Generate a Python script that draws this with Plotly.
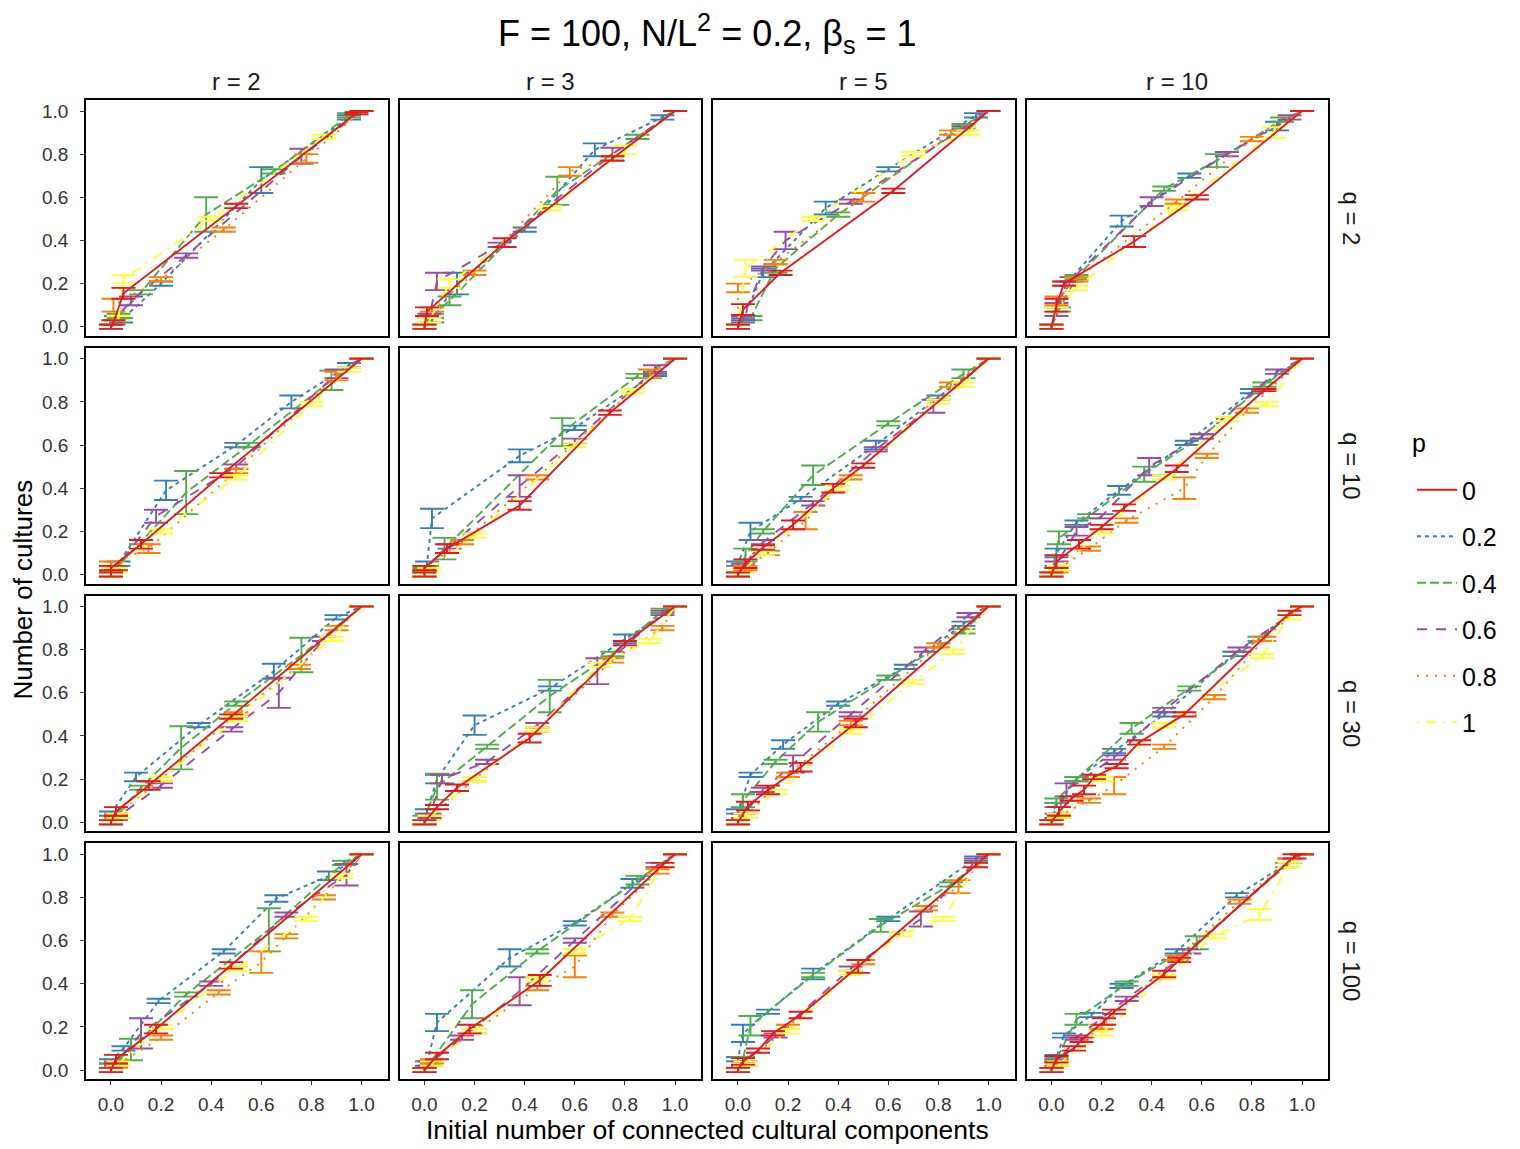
import plotly.graph_objects as go
from plotly.subplots import make_subplots

# ---------------- data ----------------
P_LABELS = ["0", "0.2", "0.4", "0.6", "0.8", "1"]
Q_VALUES = [2, 10, 30, 100]
R_VALUES = [2, 3, 5, 10]
TICK_VALUES = [0.0, 0.2, 0.4, 0.6, 0.8, 1.0]
TICK_TEXT = ["0.0", "0.2", "0.4", "0.6", "0.8", "1.0"]

# each panel: one list per p (0, 0.2, 0.4, 0.6, 0.8, 1); each point [x, y, error]
Q2_R2 = [
    [[0, 0, .01], [.01, .02, .01], [.05, .155, .025], [.5, .56, .01], [.98, .99, .005], [1, 1, 0]],
    [[0, 0, .01], [.04, .03, .01], [.2, .2, .01], [.6, .68, .06], [.95, .97, .01], [1, 1, 0]],
    [[0, 0, .01], [.03, .05, .01], [.12, .16, .01], [.38, .52, .08], [.65, .72, .01], [.95, .98, .01], [1, 1, 0]],
    [[0, 0, .01], [.02, .04, .01], [.08, .12, .02], [.3, .33, .01], [.76, .79, .035], [1, 1, 0]],
    [[0, 0, .01], [.01, .1, .03], [.2, .22, .01], [.45, .45, .01], [.78, .78, .02], [1, 1, 0]],
    [[0, 0, .01], [.03, .04, .01], [.05, .22, .02], [.4, .5, .01], [.85, .88, .01], [1, 1, 0]],
]
Q2_R3 = [
    [[0, 0, .01], [.01, .07, .02], [.32, .39, .02], [.75, .78, .01], [1, 1, 0]],
    [[0, 0, .01], [.03, .03, .01], [.13, .2, .05], [.4, .45, .01], [.68, .82, .03], [.95, .97, .01], [1, 1, 0]],
    [[0, 0, .01], [.03, .05, .01], [.1, .12, .02], [.53, .63, .065], [.85, .88, .01], [1, 1, 0]],
    [[0, 0, .01], [.02, .05, .01], [.05, .21, .04], [.3, .38, .01], [.75, .8, .03], [1, 1, 0]],
    [[0, 0, .01], [.03, .08, .01], [.2, .25, .01], [.58, .72, .02], [.75, .78, .01], [1, 1, 0]],
    [[0, 0, .01], [.02, .03, .01], [.1, .2, .02], [.5, .55, .01], [.8, .82, .02], [1, 1, 0]],
]
Q2_R5 = [
    [[0, 0, .01], [.02, .08, .025], [.17, .25, .01], [.62, .63, .01], [1, 1, 0]],
    [[0, 0, .01], [.02, .03, .01], [.1, .25, .02], [.35, .55, .03], [.6, .73, .01], [.95, .98, .01], [1, 1, 0]],
    [[0, 0, .01], [.05, .04, .01], [.15, .27, .02], [.4, .52, .01], [.9, .93, .01], [1, 1, 0]],
    [[0, 0, .01], [.02, .04, .01], [.1, .27, .01], [.19, .4, .04], [.45, .58, .01], [.9, .92, .01], [1, 1, 0]],
    [[0, 0, .01], [0, .18, .02], [.15, .3, .01], [.5, .6, .02], [.85, .9, .01], [1, 1, 0]],
    [[0, 0, .01], [.03, .27, .04], [.3, .5, .01], [.7, .8, .01], [.92, .9, .01], [1, 1, 0]],
]
Q2_R10 = [
    [[0, 0, .01], [.02, .1, .03], [.05, .2, .01], [.33, .395, .025], [.58, .6, .01], [1, 1, 0]],
    [[0, 0, .01], [.02, .08, .01], [.06, .2, .01], [.28, .49, .025], [.55, .7, .01], [.9, .93, .02], [1, 1, 0]],
    [[0, 0, .01], [.03, .08, .01], [.1, .23, .01], [.45, .64, .01], [.66, .77, .03], [.92, .96, .01], [1, 1, 0]],
    [[0, 0, .01], [.02, .08, .03], [.08, .22, .01], [.4, .58, .02], [.7, .8, .01], [.95, .97, .01], [1, 1, 0]],
    [[0, 0, .01], [.02, .12, .02], [.1, .22, .01], [.5, .58, .01], [.8, .87, .01], [1, 1, 0]],
    [[0, 0, .01], [.02, .08, .01], [.1, .18, .01], [.5, .55, .01], [.89, .9, .025], [1, 1, 0]],
]
Q10_R2 = [
    [[0, 0, .01], [0, .03, .01], [.12, .14, .02], [.44, .46, .01], [1, 1, 0]],
    [[0, 0, .01], [.03, .05, .01], [.22, .39, .045], [.5, .6, .01], [.72, .8, .03], [.95, .97, .01], [1, 1, 0]],
    [[0, 0, .01], [.02, .03, .01], [.12, .15, .01], [.3, .38, .1], [.55, .6, .01], [.88, .9, .045], [1, 1, 0]],
    [[0, 0, .01], [.02, .03, .01], [.18, .27, .03], [.5, .5, .01], [.9, .93, .02], [1, 1, 0]],
    [[0, 0, .01], [0, .05, .01], [.15, .12, .02], [.5, .48, .01], [.9, .92, .02], [1, 1, 0]],
    [[0, 0, .01], [.02, .02, .01], [.2, .2, .01], [.5, .45, .01], [.8, .79, .01], [.95, .95, .01], [1, 1, 0]],
]
Q10_R3 = [
    [[0, 0, .01], [0, .03, .01], [.09, .12, .02], [.38, .32, .02], [.74, .75, .01], [1, 1, 0]],
    [[0, 0, .01], [.01, .05, .01], [.03, .26, .045], [.38, .55, .03], [.6, .68, .01], [.92, .93, .01], [1, 1, 0]],
    [[0, 0, .01], [0, .02, .01], [.08, .12, .05], [.55, .66, .065], [.85, .92, .01], [1, 1, 0]],
    [[0, 0, .01], [0, .03, .01], [.1, .13, .01], [.38, .41, .05], [.6, .62, .01], [.92, .95, .02], [1, 1, 0]],
    [[0, 0, .01], [0, .03, .01], [.15, .15, .01], [.45, .45, .01], [.9, .93, .02], [1, 1, 0]],
    [[0, 0, .01], [.02, .02, .01], [.2, .18, .01], [.6, .6, .01], [.83, .85, .01], [1, 1, 0]],
]
Q10_R5 = [
    [[0, 0, .01], [.03, .05, .02], [.1, .125, .01], [.22, .23, .02], [.38, .4, .02], [.5, .505, .01], [1, 1, 0]],
    [[0, 0, .01], [0, .05, .01], [.05, .2, .04], [.25, .35, .01], [.55, .6, .02], [.8, .82, .01], [1, 1, 0]],
    [[0, 0, .01], [.03, .09, .03], [.1, .2, .01], [.3, .46, .045], [.6, .7, .01], [.9, .93, .02], [1, 1, 0]],
    [[0, 0, .01], [.02, .04, .01], [.1, .15, .01], [.3, .33, .01], [.55, .58, .01], [.78, .78, .03], [1, 1, 0]],
    [[0, 0, .01], [.03, .03, .01], [.12, .1, .01], [.27, .25, .04], [.45, .45, .01], [.85, .88, .01], [1, 1, 0]],
    [[0, 0, .01], [.02, .02, .01], [.1, .1, .01], [.4, .4, .01], [.8, .8, .01], [.9, .88, .01], [1, 1, 0]],
]
Q10_R10 = [
    [[0, 0, .01], [.02, .06, .03], [.11, .14, .02], [.2, .22, .01], [.29, .31, .015], [.5, .49, .015], [.85, .855, .005], [1, 1, 0]],
    [[0, 0, .01], [.02, .1, .02], [.1, .24, .01], [.27, .39, .02], [.54, .61, .01], [.8, .85, .01], [1, 1, 0]],
    [[0, 0, .01], [.03, .17, .03], [.15, .27, .01], [.37, .465, .035], [.6, .64, .01], [.85, .88, .01], [1, 1, 0]],
    [[0, 0, .01], [.02, .05, .01], [.1, .2, .02], [.2, .27, .01], [.39, .5, .04], [.6, .64, .01], [.9, .94, .01], [1, 1, 0]],
    [[0, 0, .01], [.02, .02, .01], [.15, .12, .01], [.3, .25, .01], [.53, .4, .05], [.62, .55, .01], [.78, .76, .01], [1, 1, 0]],
    [[0, 0, .01], [.03, .03, .01], [.2, .2, .01], [.45, .45, .01], [.7, .72, .01], [.86, .79, .01], [1, 1, 0]],
]
Q30_R2 = [
    [[0, 0, .01], [.02, .05, .02], [.15, .17, .02], [.48, .49, .01], [1, 1, 0]],
    [[0, 0, .01], [0, .04, .01], [.1, .21, .02], [.35, .45, .01], [.65, .7, .035], [.9, .95, .01], [1, 1, 0]],
    [[0, 0, .01], [.02, .03, .01], [.12, .16, .01], [.28, .345, .1], [.5, .55, .01], [.76, .775, .08], [1, 1, 0]],
    [[0, 0, .01], [.02, .02, .01], [.2, .17, .01], [.48, .43, .01], [.67, .6, .07], [.85, .85, .01], [1, 1, 0]],
    [[0, 0, .01], [.02, .03, .01], [.2, .2, .01], [.5, .5, .01], [.75, .72, .01], [.9, .9, .01], [1, 1, 0]],
    [[0, 0, .01], [.03, .03, .01], [.2, .2, .01], [.5, .48, .01], [.88, .85, .01], [1, 1, 0]],
]
Q30_R3 = [
    [[0, 0, .01], [.05, .07, .01], [.13, .16, .015], [.42, .39, .02], [.8, .83, .01], [1, 1, 0]],
    [[0, 0, .01], [.01, .05, .01], [.05, .2, .02], [.2, .45, .045], [.5, .62, .01], [.8, .85, .02], [1, 1, 0]],
    [[0, 0, .01], [0, .02, .01], [.05, .165, .06], [.25, .35, .01], [.5, .585, .075], [.75, .78, .01], [.95, .98, .01], [1, 1, 0]],
    [[0, 0, .01], [.02, .03, .01], [.07, .2, .02], [.25, .28, .01], [.45, .45, .01], [.69, .7, .06], [.95, .97, .01], [1, 1, 0]],
    [[0, 0, .01], [.02, .02, .01], [.2, .2, .01], [.45, .43, .01], [.75, .75, .01], [.95, .9, .01], [1, 1, 0]],
    [[0, 0, .01], [.02, .02, .01], [.2, .2, .01], [.45, .43, .01], [.7, .73, .01], [.9, .84, .01], [1, 1, 0]],
]
Q30_R5 = [
    [[0, 0, .01], [.04, .075, .02], [.12, .15, .02], [.25, .255, .02], [.47, .46, .02], [1, 1, 0]],
    [[0, 0, .01], [0, .05, .01], [.05, .22, .01], [.18, .36, .02], [.4, .55, .01], [.67, .72, .01], [.9, .92, .01], [1, 1, 0]],
    [[0, 0, .01], [.02, .1, .03], [.15, .28, .01], [.32, .465, .045], [.6, .67, .01], [.9, .885, .01], [1, 1, 0]],
    [[0, 0, .01], [.02, .03, .01], [.1, .15, .01], [.22, .27, .04], [.45, .5, .01], [.75, .8, .01], [.92, .96, .01], [1, 1, 0]],
    [[0, 0, .01], [.03, .03, .01], [.2, .22, .01], [.45, .46, .01], [.8, .82, .01], [1, 1, 0]],
    [[0, 0, .01], [.03, .03, .01], [.15, .14, .01], [.45, .42, .01], [.7, .65, .01], [.86, .79, .01], [1, 1, 0]],
]
Q30_R10 = [
    [[0, 0, .01], [.03, .05, .02], [.08, .11, .01], [.13, .15, .02], [.17, .21, .01], [.26, .26, .01], [.35, .37, .01], [.53, .5, .01], [.95, .97, .01], [1, 1, 0]],
    [[0, 0, .01], [.02, .08, .01], [.1, .2, .01], [.25, .33, .01], [.45, .5, .01], [.73, .78, .01], [1, 1, 0]],
    [[0, 0, .01], [.02, .1, .01], [.1, .2, .01], [.32, .435, .025], [.55, .62, .01], [.83, .85, .01], [1, 1, 0]],
    [[0, 0, .01], [.02, .03, .01], [.06, .15, .03], [.25, .3, .01], [.45, .52, .01], [.75, .8, .01], [1, 1, 0]],
    [[0, 0, .01], [.03, .03, .01], [.15, .1, .01], [.25, .17, .04], [.45, .35, .01], [.65, .58, .01], [.85, .85, .01], [1, 1, 0]],
    [[0, 0, .01], [.03, .03, .01], [.2, .2, .01], [.45, .45, .01], [.84, .77, .01], [.95, .95, .01], [1, 1, 0]],
]
Q100_R2 = [
    [[0, 0, .01], [.02, .05, .02], [.18, .19, .02], [.48, .485, .015], [1, 1, 0]],
    [[0, 0, .01], [0, .04, .01], [.05, .1, .01], [.19, .32, .01], [.45, .55, .01], [.66, .795, .015], [.87, .9, .02], [1, 1, 0]],
    [[0, 0, .01], [0, .02, .01], [.08, .095, .05], [.3, .35, .01], [.63, .65, .1], [.93, .96, .01], [1, 1, 0]],
    [[0, 0, .01], [.02, .03, .01], [.12, .17, .07], [.4, .4, .01], [.7, .72, .01], [.94, .905, .05], [1, 1, 0]],
    [[0, 0, .01], [.02, .02, .01], [.2, .15, .01], [.43, .36, .01], [.6, .5, .05], [.7, .62, .01], [.85, .8, .01], [1, 1, 0]],
    [[0, 0, .01], [.03, .03, .01], [.2, .2, .01], [.5, .47, .01], [.78, .7, .01], [.92, .9, .01], [1, 1, 0]],
]
Q100_R3 = [
    [[0, 0, .01], [.05, .065, .015], [.18, .19, .02], [.46, .415, .025], [.95, .95, .01], [1, 1, 0]],
    [[0, 0, .01], [.01, .03, .01], [.05, .22, .04], [.34, .52, .04], [.6, .68, .01], [.83, .865, .02], [1, 1, 0]],
    [[0, 0, .01], [.02, .03, .01], [.19, .305, .065], [.45, .55, .01], [.85, .88, .02], [1, 1, 0]],
    [[0, 0, .01], [.02, .03, .01], [.15, .15, .01], [.38, .365, .065], [.6, .6, .01], [.93, .95, .01], [1, 1, 0]],
    [[0, 0, .01], [.03, .04, .01], [.2, .18, .01], [.45, .38, .01], [.6, .48, .05], [.75, .72, .01], [.93, .92, .01], [1, 1, 0]],
    [[0, 0, .01], [.03, .03, .01], [.2, .18, .01], [.45, .42, .01], [.6, .55, .01], [.82, .7, .01], [.95, .95, .01], [1, 1, 0]],
]
Q100_R5 = [
    [[0, 0, .01], [.02, .04, .015], [.08, .09, .01], [.14, .17, .01], [.25, .255, .015], [.48, .48, .03], [.95, .95, .01], [1, 1, 0]],
    [[0, 0, .01], [0, .05, .01], [.02, .17, .04], [.12, .27, .01], [.3, .445, .025], [.6, .7, .01], [.95, .98, .01], [1, 1, 0]],
    [[0, 0, .01], [.02, .05, .01], [.05, .205, .045], [.3, .44, .01], [.57, .67, .03], [.85, .86, .01], [1, 1, 0]],
    [[0, 0, .01], [.02, .03, .01], [.15, .16, .01], [.45, .47, .01], [.73, .7, .035], [.95, .97, .01], [1, 1, 0]],
    [[0, 0, .01], [.03, .03, .01], [.2, .2, .01], [.5, .5, .01], [.75, .75, .01], [.88, .85, .03], [1, 1, 0]],
    [[0, 0, .01], [.03, .03, .01], [.2, .18, .01], [.45, .45, .01], [.65, .63, .01], [.82, .7, .01], [.95, .95, .01], [1, 1, 0]],
]
Q100_R10 = [
    [[0, 0, .01], [.02, .05, .015], [.09, .1, .01], [.12, .14, .01], [.21, .225, .015], [.25, .27, .01], [.45, .445, .015], [.51, .51, .01], [.97, .99, .01], [1, 1, 0]],
    [[0, 0, .01], [.02, .06, .01], [.05, .16, .01], [.16, .255, .01], [.28, .39, .01], [.5, .55, .01], [.74, .81, .01], [1, 1, 0]],
    [[0, 0, .01], [.02, .05, .01], [.1, .235, .025], [.3, .4, .01], [.58, .59, .03], [.94, .95, .01], [1, 1, 0]],
    [[0, 0, .01], [.02, .03, .01], [.1, .15, .01], [.3, .33, .01], [.55, .55, .01], [.95, .97, .01], [1, 1, 0]],
    [[0, 0, .01], [.02, .03, .01], [.2, .2, .01], [.5, .52, .01], [.75, .78, .01], [.95, .97, .01], [1, 1, 0]],
    [[0, 0, .01], [.03, .03, .01], [.2, .17, .01], [.45, .43, .01], [.65, .62, .01], [.83, .72, .025], [.95, .95, .01], [1, 1, 0]],
]

PANELS = [
    [Q2_R2, Q2_R3, Q2_R5, Q2_R10],
    [Q10_R2, Q10_R3, Q10_R5, Q10_R10],
    [Q30_R2, Q30_R3, Q30_R5, Q30_R10],
    [Q100_R2, Q100_R3, Q100_R5, Q100_R10],
]

# ---------------- styling ----------------
P_COLORS = ["#E41A1C", "#377EB8", "#4DAF4A", "#984EA3", "#FF7F00", "#FFFF33"]
P_DASHES = ["solid", "4px,4px", "9px,4px", "10px,9px", "2px,7px", "2px,7px,10px,7px"]
FONT = "Liberation Sans, Arial, Helvetica, sans-serif"

W, H = 1520, 1149
# the page body adds an 8px offset, so margins are reduced accordingly
ML, MT = 78, 92
PLOT_W, PLOT_H = 1242, 979
MR = W - ML - PLOT_W
MB = H - MT - PLOT_H

fig = make_subplots(
    rows=4, cols=4,
    shared_xaxes=True, shared_yaxes=True,
    horizontal_spacing=12 / PLOT_W,
    vertical_spacing=12 / PLOT_H,
)

draw_order = [1, 2, 3, 4, 5, 0]
for i in range(4):
    for j in range(4):
        panel = PANELS[i][j]
        for k in draw_order:
            series = panel[k]
            xs = [pt[0] for pt in series]
            ys = [pt[1] for pt in series]
            es = [pt[2] for pt in series]
            fig.add_trace(
                go.Scatter(
                    x=xs, y=ys, mode="lines",
                    name=P_LABELS[k],
                    legendgroup=P_LABELS[k],
                    legendrank=k + 1,
                    showlegend=(i == 0 and j == 0),
                    line=dict(color=P_COLORS[k], width=1.9, dash=P_DASHES[k]),
                    error_y=dict(type="data", array=es, visible=True,
                                 color=P_COLORS[k], thickness=1.9, width=12),
                    hoverinfo="skip",
                ),
                row=i + 1, col=j + 1,
            )

TICKFONT = dict(family=FONT, size=19, color="#333333")
for i in range(4):
    for j in range(4):
        fig.update_xaxes(
            range=[-0.0996, 1.1036], tickvals=TICK_VALUES, ticktext=TICK_TEXT,
            showline=True, mirror=True, linecolor="black", linewidth=1.6,
            showgrid=False, zeroline=False,
            ticks="outside" if i == 3 else "", ticklen=4, tickwidth=1.2, tickcolor="#333333",
            showticklabels=(i == 3), ticklabelstandoff=3,
            tickfont=TICKFONT,
            row=i + 1, col=j + 1,
        )
        fig.update_yaxes(
            range=[-0.0417, 1.051], tickvals=TICK_VALUES, ticktext=TICK_TEXT,
            showline=True, mirror=True, linecolor="black", linewidth=1.6,
            showgrid=False, zeroline=False,
            ticks="outside" if j == 0 else "", ticklen=4, tickwidth=1.2, tickcolor="#333333",
            showticklabels=(j == 0), ticklabelstandoff=8,
            tickfont=TICKFONT,
            row=i + 1, col=j + 1,
        )

annotations = []
# column strips (r)
for j, r in enumerate(R_VALUES):
    ax = fig.layout["xaxis" if j == 0 else f"xaxis{j + 1}"]
    cx = (ax.domain[0] + ax.domain[1]) / 2
    annotations.append(dict(
        text=f"r = {r}", x=cx, y=1.0, xref="paper", yref="paper",
        xanchor="center", yanchor="bottom", yshift=3, showarrow=False,
        font=dict(family=FONT, size=24, color="#1A1A1A")))
# row strips (q)
for i, q in enumerate(Q_VALUES):
    idx = i * 4 + 1
    ay = fig.layout["yaxis" if idx == 1 else f"yaxis{idx}"]
    cy = (ay.domain[0] + ay.domain[1]) / 2
    annotations.append(dict(
        text=f"q = {q}", x=1.0, y=cy, xref="paper", yref="paper",
        xanchor="left", yanchor="middle", xshift=8, textangle=90, showarrow=False,
        font=dict(family=FONT, size=24, color="#1A1A1A")))
# title
annotations.append(dict(
    text="F = 100, N/L<sup>2</sup> = 0.2, β<sub>s</sub> = 1",
    x=0.5, y=1.0, xref="paper", yref="paper", xanchor="center", yanchor="middle",
    yshift=67, showarrow=False, font=dict(family=FONT, size=36, color="black")))
# axis titles
annotations.append(dict(
    text="Initial number of connected cultural components",
    x=0.5, y=0.0, xref="paper", yref="paper", xanchor="center", yanchor="middle",
    yshift=-51, showarrow=False, font=dict(family=FONT, size=26.5, color="black")))
annotations.append(dict(
    text="Number of cultures",
    x=0.0, y=0.5, xref="paper", yref="paper", xanchor="center", yanchor="middle",
    xshift=-64, textangle=-90, showarrow=False, font=dict(family=FONT, size=26, color="black")))
# legend title
annotations.append(dict(
    text="p", x=(1419 - 8 - ML) / PLOT_W, y=1 - (443 - 8 - MT) / PLOT_H,
    xref="paper", yref="paper", xanchor="center", yanchor="middle", showarrow=False,
    font=dict(family=FONT, size=25, color="black")))

fig.update_layout(
    width=W, height=H,
    margin=dict(l=ML, r=MR, t=MT, b=MB),
    paper_bgcolor="white", plot_bgcolor="white",
    annotations=annotations,
    showlegend=True,
    legend=dict(
        font=dict(family=FONT, size=25, color="black"),
        x=(1412 - 8 - ML) / PLOT_W, y=1 - (467 - 8 - MT) / PLOT_H,
        xanchor="left", yanchor="top",
        tracegroupgap=11, bgcolor="rgba(0,0,0,0)",
        itemwidth=40,
    ),
)

fig.write_html("out.html")
